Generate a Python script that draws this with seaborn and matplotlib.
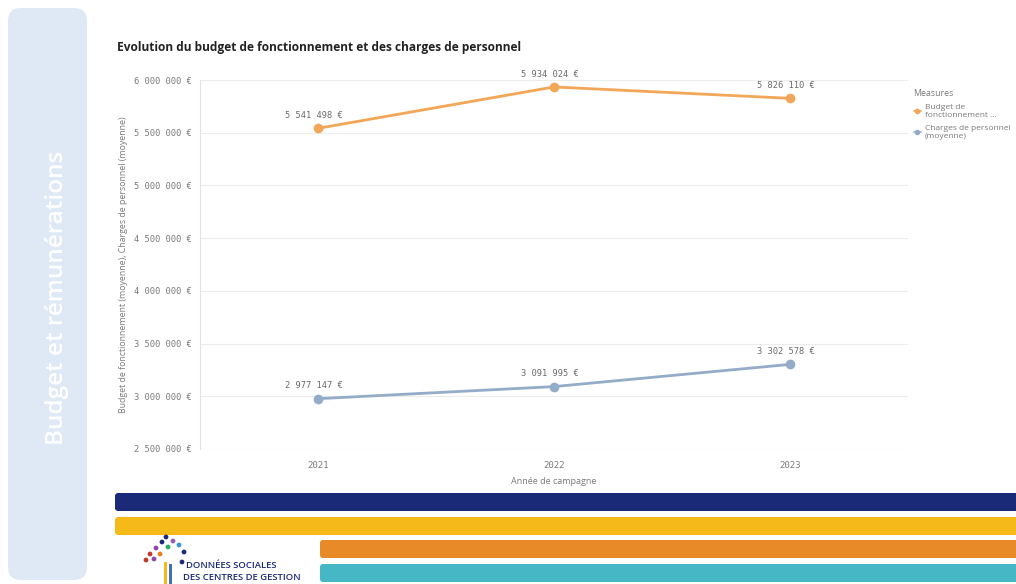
import matplotlib
matplotlib.use("Agg")
import matplotlib.pyplot as plt
from matplotlib.patches import FancyBboxPatch, Circle
from matplotlib.lines import Line2D
import pandas as pd
import seaborn as sns

# Données
annees = [2021, 2022, 2023]
budget_fonct = [5541498, 5934024, 5826110]
charges_pers = [2977147, 3091995, 3302578]
serie_budget = "Budget de fonctionnement (moyenne)"
serie_charges = "Charges de personnel (moyenne)"
y_ticks = [2500000, 3000000, 3500000, 4000000, 4500000, 5000000, 5500000, 6000000]

df = pd.DataFrame({
    "Année": annees * 2,
    "Valeur": budget_fonct + charges_pers,
    "Mesure": [serie_budget] * 3 + [serie_charges] * 3,
})

sns.set_theme(style="white")
plt.rcParams["font.family"] = ["Open Sans", "DejaVu Sans"]

ORANGE = "#f2a657"
BLEU = "#94acc8"
GRIS = "#7a7a7a"
MONO = ["DejaVu Sans Mono"]


def euros(v):
    return f"{v:,.0f}".replace(",", " ") + " €"


fig = plt.figure(figsize=(10.16, 5.84), dpi=100)
fig.patch.set_facecolor("white")

# --- panneau gauche ---
fig.patches.append(FancyBboxPatch((0.08, 0.04), 0.79, 5.72,
                                  boxstyle="round,pad=0,rounding_size=0.13",
                                  transform=fig.dpi_scale_trans, facecolor="#dfe9f5",
                                  edgecolor="none", zorder=0))
fig.text(57 / 1016, 0.49, "Budget et rémunérations", rotation=90, color="white",
         fontsize=17.5, fontweight="semibold", ha="center", va="center")

# --- graphique ---
ax = fig.add_axes([200 / 1016, 1 - 449 / 584, 708 / 1016, 369 / 584])
sns.lineplot(data=df, x="Année", y="Valeur", hue="Mesure",
             palette={serie_budget: ORANGE, serie_charges: BLEU},
             marker="o", markersize=7, markeredgewidth=0, linewidth=2,
             ax=ax, legend=False)

ax.set_xlim(2020.5, 2023.5)
ax.set_ylim(2500000, 6000000)
ax.set_yticks(y_ticks)
ax.set_yticklabels([euros(v) for v in y_ticks], fontsize=6.3, color=GRIS, family=MONO)
ax.set_xticks(annees)
ax.set_xticklabels([str(a) for a in annees], fontsize=6.5, color=GRIS, family=MONO)
ax.tick_params(length=0, pad=6)
ax.tick_params(axis="x", pad=9)
ax.grid(axis="y", color="#ececec", linewidth=0.8)
for s in ["top", "right", "bottom"]:
    ax.spines[s].set_visible(False)
ax.spines["left"].set_color("#e2e2e2")
ax.spines["left"].set_linewidth(0.8)

ax.set_xlabel("Année de campagne", fontsize=6.5, color=GRIS, labelpad=5)
ax.set_ylabel("Budget de fonctionnement (moyenne), Charges de personnel (moyenne)",
              fontsize=6.3, color=GRIS, labelpad=4)

for serie in (budget_fonct, charges_pers):
    for a, v in zip(annees, serie):
        ax.annotate(euros(v), (a, v), xytext=(-3, 6), textcoords="offset points",
                    ha="center", va="bottom", fontsize=6.3, color="#6a6a6a",
                    family=MONO, annotation_clip=False)

fig.text(117 / 1016, 1 - 47 / 584,
         "Evolution du budget de fonctionnement et des charges de personnel",
         fontsize=8.6, fontweight="bold", color="#222222", va="center")

# --- légende ---
poignees = [Line2D([], [], color=ORANGE, marker="o", markersize=3, linewidth=1.2),
            Line2D([], [], color=BLEU, marker="o", markersize=3, linewidth=1.2)]
leg = fig.legend(poignees, ["Budget de\nfonctionnement ...", "Charges de personnel\n(moyenne)"],
                 title="Measures", loc="upper left", bbox_to_anchor=(906 / 1016, 1 - 82 / 584),
                 frameon=False, fontsize=6.0, title_fontsize=6.3, handlelength=0.9,
                 handletextpad=0.45, labelspacing=0.7, alignment="left")
for t in leg.get_texts():
    t.set_color(GRIS)
leg.get_title().set_color(GRIS)

# --- bandeaux bas ---
bandes = [(1.15, 0.73, "#1b2a78"), (1.15, 0.49, "#f6b91a"),
          (3.20, 0.26, "#e98a28"), (3.20, 0.02, "#46b7c4")]
for x0, y0, c in bandes:
    fig.patches.append(FancyBboxPatch((x0, y0), 10.0, 0.18,
                                      boxstyle="round,pad=0,rounding_size=0.03",
                                      transform=fig.dpi_scale_trans, facecolor=c,
                                      edgecolor="none"))

# logo
points_logo = [(1.50, 0.30, "#c0392b"), (1.56, 0.36, "#8e44ad"), (1.62, 0.42, "#1b2a78"),
               (1.68, 0.37, "#27ae60"), (1.73, 0.43, "#9b59b6"), (1.79, 0.39, "#3498db"),
               (1.60, 0.30, "#e67e22"), (1.84, 0.32, "#1b2a78"), (1.46, 0.24, "#c0392b"),
               (1.66, 0.47, "#1b2a78"), (1.54, 0.25, "#8e44ad"), (1.82, 0.22, "#1b2a78")]
for px, py, c in points_logo:
    fig.patches.append(Circle((px, py), 0.024, transform=fig.dpi_scale_trans,
                              facecolor=c, edgecolor="none"))
fig.patches.append(FancyBboxPatch((1.64, 0.0), 0.03, 0.22, boxstyle="square,pad=0",
                                  transform=fig.dpi_scale_trans, facecolor="#f6b91a",
                                  edgecolor="none"))
fig.patches.append(FancyBboxPatch((1.69, 0.0), 0.03, 0.20, boxstyle="square,pad=0",
                                  transform=fig.dpi_scale_trans, facecolor="#3f6fb5",
                                  edgecolor="none"))
fig.text(186 / 1016, 1 - 566 / 584, "DONNÉES SOCIALES", fontsize=6.8,
         color="#1b2a78", fontweight="semibold", va="center")
fig.text(183 / 1016, 1 - 578 / 584, "DES CENTRES DE GESTION", fontsize=6.8,
         color="#1b2a78", fontweight="semibold", va="center")

fig.savefig("out.png", dpi=100)
